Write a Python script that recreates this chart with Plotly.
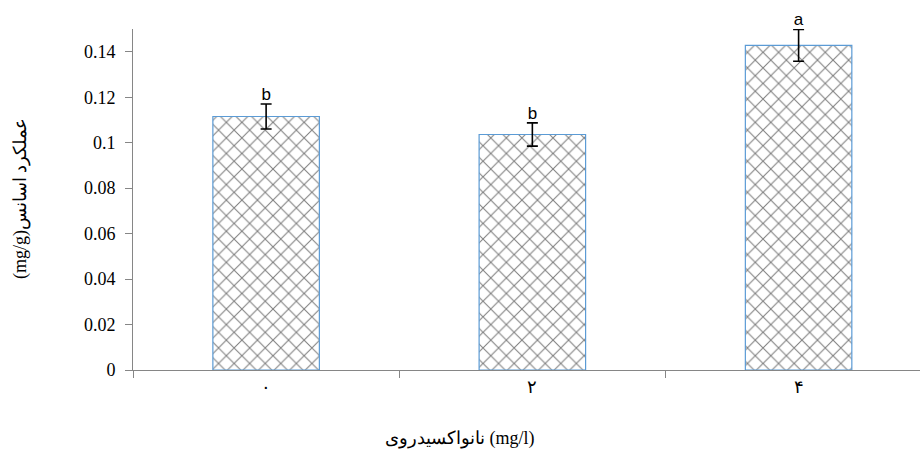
import plotly.graph_objects as go

categories = ["۰", "۲", "۴"]
values = [0.1115, 0.1036, 0.1428]
errors = [0.0055, 0.0051, 0.0070]
letters = ["b", "b", "a"]

SERIF = "Liberation Serif"

fig = go.Figure()
fig.add_trace(go.Bar(
    x=categories, y=values,
    width=0.4,
    marker=dict(
        color="white",
        line=dict(color="#5B9BD5", width=1.2),
        pattern=dict(shape="x", fgcolor="black", bgcolor="white", size=11, solidity=0.18),
    ),
    error_y=dict(type="data", array=errors, visible=True, color="black", thickness=1.6, width=5.5),
    showlegend=False,
))
fig.add_trace(go.Scatter(
    x=categories, y=[v + e for v, e in zip(values, errors)],
    mode="text", text=letters, textposition="top center",
    textfont=dict(family="Liberation Sans", size=17, color="black"),
    showlegend=False, cliponaxis=False,
))

fig.update_layout(
    width=920, height=457,
    margin=dict(l=133, r=0, t=29, b=87),
    paper_bgcolor="white", plot_bgcolor="white",
    font=dict(family=SERIF, size=17, color="black"),
    xaxis=dict(
        type="category", range=[-0.5, 2.456],
        showline=True, linecolor="#868686", linewidth=1,
        ticks="outside", tickson="boundaries", ticklen=7, tickcolor="#868686",
        tickfont=dict(family=SERIF, size=18),
        showgrid=False, zeroline=False,
    ),
    yaxis=dict(
        range=[0, 0.15],
        tickvals=[0, 0.02, 0.04, 0.06, 0.08, 0.1, 0.12, 0.14],
        ticktext=["0", "0.02", "0.04", "0.06", "0.08", "0.1", "0.12", "0.14"],
        tickfont=dict(family=SERIF, size=18),
        showline=True, linecolor="#868686", linewidth=1,
        ticks="outside", ticklen=7, tickcolor="#868686",
        showgrid=False, zeroline=False,
        ticklabelstandoff=6,
    ),
    annotations=[
        dict(text="(mg/g)عملکرد اسانس", xref="paper", yref="paper",
             x=(20 - 133) / 787, y=(370 - 198) / 341, textangle=-90,
             xanchor="center", yanchor="middle",
             showarrow=False, font=dict(family=SERIF, size=18)),
        dict(text="نانواکسیدروی (mg/l)", xref="paper", yref="paper",
             x=(460 - 133) / 787, y=-(438 - 370) / 341,
             xanchor="center", yanchor="middle", showarrow=False,
             font=dict(family=SERIF, size=18)),
    ],
)

fig.write_html(
    "out.html",
    config={"displayModeBar": False},
    post_script="document.body.style.margin='0';document.body.style.padding='0';",
)
